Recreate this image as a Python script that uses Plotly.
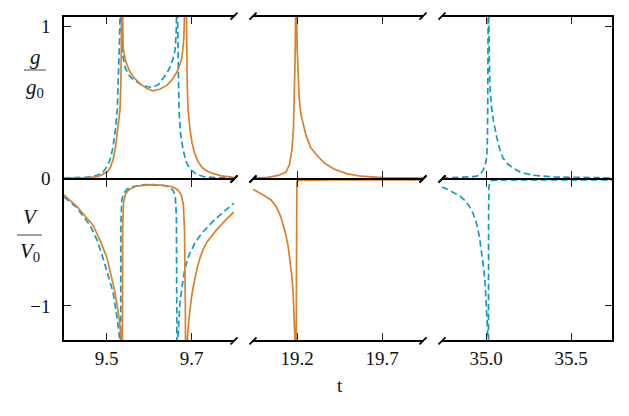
import plotly.graph_objects as go

W, H = 629, 416

# ---------------- data ----------------
# window 1 (t in [9.4, 9.8])
t_g_or_1 = [9.400, 9.450, 9.480, 9.5012, 9.509, 9.5153, 9.521, 9.526, 9.5318, 9.534, 9.5355, 9.537,
            9.5385, 9.5395, 9.545, 9.555, 9.565, 9.579, 9.595, 9.609, 9.625, 9.642, 9.655, 9.666,
            9.673, 9.678, 9.682, 9.685, 9.6865, 9.688, 9.689, 9.690, 9.692, 9.696, 9.701, 9.708,
            9.715, 9.725, 9.736, 9.748, 9.770, 9.800]
g_or_1 = [0.000, 0.003, 0.010, 0.040, 0.070, 0.120, 0.200, 0.300, 0.450, 0.650, 0.900, 1.400,
          0.950, 0.850, 0.770, 0.700, 0.660, 0.620, 0.590, 0.575, 0.585, 0.610, 0.650, 0.700,
          0.750, 0.800, 0.920, 1.100, 1.400, 1.100, 0.800, 0.600, 0.450, 0.330, 0.235, 0.160,
          0.110, 0.070, 0.048, 0.033, 0.015, 0.005]

t_g_bl_1 = [9.400, 9.450, 9.475, 9.4918, 9.502, 9.5082, 9.515, 9.521, 9.5254, 9.528, 9.530, 9.5318,
            9.533, 9.5345, 9.536, 9.539, 9.5435, 9.552, 9.5624, 9.585, 9.607, 9.622, 9.633, 9.642,
            9.6494, 9.656, 9.6612, 9.664, 9.6655, 9.6665, 9.6675, 9.6685, 9.6706, 9.674, 9.680,
            9.687, 9.6965, 9.712, 9.732, 9.770, 9.800]
g_bl_1 = [0.002, 0.006, 0.015, 0.040, 0.080, 0.120, 0.200, 0.320, 0.450, 0.620, 0.850, 1.060,
          1.400, 1.060, 0.900, 0.800, 0.730, 0.680, 0.650, 0.610, 0.595, 0.615, 0.660, 0.690,
          0.730, 0.780, 0.840, 0.950, 1.150, 1.450, 1.000, 0.700, 0.450, 0.300, 0.190,
          0.110, 0.060, 0.025, 0.008, 0.002, 0.001]

t_v_or_1 = [9.400, 9.430, 9.4682, 9.485, 9.5012, 9.511, 9.520, 9.5294, 9.5345, 9.537, 9.5375, 9.538,
            9.540, 9.545, 9.552, 9.570, 9.600, 9.630, 9.655, 9.668, 9.676, 9.681, 9.6835, 9.6855,
            9.687, 9.6885, 9.6905, 9.6935, 9.6965, 9.700, 9.704, 9.7082, 9.714, 9.720, 9.727,
            9.737, 9.748, 9.7593, 9.780, 9.800]
v_or_1 = [-0.120, -0.210, -0.360, -0.480, -0.620, -0.750, -0.890, -1.090, -1.250, -2.000, -1.200, -0.400,
          -0.180, -0.110, -0.080, -0.050, -0.040, -0.042, -0.055, -0.080, -0.120, -0.200, -0.400, -1.000,
          -2.000, -1.500, -1.250, -1.120, -1.020, -0.930, -0.850, -0.770, -0.690, -0.620, -0.555,
          -0.490, -0.440, -0.395, -0.320, -0.255]

t_v_bl_1 = [9.400, 9.430, 9.4612, 9.478, 9.4918, 9.504, 9.5153, 9.5247, 9.5306, 9.532, 9.533, 9.5335,
            9.534, 9.536, 9.540, 9.548, 9.560, 9.585, 9.610, 9.635, 9.650, 9.658, 9.662, 9.6645,
            9.6658, 9.6665, 9.667, 9.668, 9.670, 9.6729, 9.678, 9.6847, 9.695, 9.7082, 9.725,
            9.7475, 9.770, 9.800]
v_bl_1 = [-0.135, -0.220, -0.360, -0.480, -0.620, -0.760, -0.890, -1.090, -1.250, -1.450, -2.000, -1.000,
          -0.350, -0.160, -0.110, -0.075, -0.055, -0.040, -0.038, -0.045, -0.060, -0.090, -0.140, -0.300,
          -1.000, -2.000, -1.600, -1.250, -1.100, -0.970, -0.840, -0.700, -0.590, -0.500, -0.420,
          -0.340, -0.270, -0.185]

# window 2 (t in [18.94, 19.94]) - orange only
t_g_or_2 = [18.94, 19.026, 19.09, 19.134, 19.155, 19.169, 19.178, 19.183, 19.188, 19.191, 19.193,
            19.196, 19.200, 19.205, 19.212, 19.222, 19.235, 19.252, 19.280, 19.321, 19.360, 19.416,
            19.490, 19.575, 19.700, 19.940]
g_or_2 = [0.000, 0.006, 0.018, 0.040, 0.090, 0.190, 0.330, 0.520, 0.800, 1.100, 1.500,
          1.100, 0.850, 0.680, 0.520, 0.420, 0.350, 0.280, 0.200, 0.144, 0.100, 0.060,
          0.030, 0.013, 0.004, 0.001]

t_v_or_2 = [18.94, 18.97, 19.00, 19.046, 19.08, 19.105, 19.13, 19.146, 19.16, 19.169, 19.176, 19.181,
            19.187, 19.192, 19.194, 19.1955, 19.198, 19.210, 19.400, 19.940]
v_or_2 = [-0.075, -0.095, -0.120, -0.160, -0.220, -0.300, -0.420, -0.520, -0.650, -0.770, -0.900, -1.030,
          -1.270, -2.000, -0.500, -0.060, -0.015, -0.004, -0.001, 0.000]

# window 3 (t in [34.74, 35.74]) - blue only
t_g_bl_3 = [34.74, 34.85, 34.92, 34.945, 34.964, 34.983, 34.995, 35.003, 35.007, 35.009, 35.011, 35.012,
            35.013, 35.015, 35.018, 35.022, 35.030, 35.042, 35.062, 35.080, 35.100, 35.130, 35.159,
            35.200, 35.270, 35.400, 35.740]
g_bl_3 = [0.001, 0.004, 0.010, 0.014, 0.026, 0.055, 0.090, 0.140, 0.250, 0.450, 0.800, 1.100,
          1.500, 1.100, 0.800, 0.600, 0.480, 0.380, 0.270, 0.190, 0.130, 0.090, 0.065,
          0.040, 0.020, 0.008, 0.002]

t_v_bl_3 = [34.74, 34.78, 34.846, 34.88, 34.915, 34.94, 34.96, 34.975, 34.987, 34.995, 35.002, 35.008,
            35.012, 35.013, 35.0135, 35.014, 35.016, 35.020, 35.030, 35.060, 35.200, 35.740]
v_bl_3 = [-0.058, -0.080, -0.130, -0.170, -0.240, -0.330, -0.450, -0.580, -0.720, -0.850, -1.000, -1.200,
          -1.600, -2.500, -1.000, -0.300, -0.060, -0.020, -0.006, -0.002, -0.001, 0.000]

x_ranges = [[9.40, 9.80], [18.94, 19.94], [34.74, 35.74]]
x_tickvals = [[9.5, 9.7], [19.2, 19.7], [35.0, 35.5]]
x_ticktext = [["9.5", "9.7"], ["19.2", "19.7"], ["35.0", "35.5"]]
g_range = [0, 1.06]
v_range = [-1.27, 0]

# ---------------- style ----------------
ORANGE = "#d9822b"
BLUE = "#109cc0"
FONT = "Liberation Serif"
FS = 19

def px_x(p):
    return p / W

def px_y(p):
    return 1 - p / H

col_px = [(64, 234), (253, 423), (442, 612)]
row_px = [(17, 178.2), (179.8, 340)]

fig = go.Figure()

solid = dict(color=ORANGE, width=1.7)
dashed = dict(color=BLUE, width=1.7, dash="6.5px,3.5px")

def ax(i):
    return ("x" if i == 1 else f"x{i}"), ("y" if i == 1 else f"y{i}")

traces = [
    (1, t_g_bl_1, g_bl_1, dashed), (1, t_g_or_1, g_or_1, solid),
    (4, t_v_bl_1, v_bl_1, dashed), (4, t_v_or_1, v_or_1, solid),
    (2, t_g_or_2, g_or_2, solid), (5, t_v_or_2, v_or_2, solid),
    (3, t_g_bl_3, g_bl_3, dashed), (6, t_v_bl_3, v_bl_3, dashed),
]
for i, xs, ys, ln in traces:
    xa, ya = ax(i)
    fig.add_trace(go.Scatter(x=xs, y=ys, mode="lines", line=ln, xaxis=xa, yaxis=ya,
                             showlegend=False, hoverinfo="skip"))

layout = {}
for r in range(2):
    for c in range(3):
        i = r * 3 + c + 1
        xname = "xaxis" if i == 1 else f"xaxis{i}"
        yname = "yaxis" if i == 1 else f"yaxis{i}"
        xa, ya = ax(i)
        layout[xname] = dict(
            domain=[px_x(col_px[c][0]), px_x(col_px[c][1])], anchor=ya,
            range=x_ranges[c], tickvals=x_tickvals[c], ticktext=x_ticktext[c],
            showticklabels=(r == 1), ticks="inside", ticklen=7, tickwidth=1,
            tickcolor="#222", showline=True, linecolor="black", linewidth=1.6,
            mirror="ticks", showgrid=False, zeroline=False, automargin=False,
            tickfont=dict(family=FONT, size=FS, color="#111"),
            ticklabelstandoff=0,
        )
        yd = dict(
            domain=[px_y(row_px[r][1]), px_y(row_px[r][0])], anchor=xa,
            range=g_range if r == 0 else v_range,
            showgrid=False, zeroline=False, automargin=False,
            tickfont=dict(family=FONT, size=FS, color="#111"),
        )
        if c == 0:
            yd.update(side="left", showline=True, linecolor="black", linewidth=1.6,
                      ticks="inside", ticklen=7, tickwidth=1, tickcolor="#222",
                      tickvals=[0, 1] if r == 0 else [-1],
                      ticktext=["0", "1"] if r == 0 else ["\u22121"],
                      ticklabelstandoff=8)
        elif c == 2:
            yd.update(side="right", showline=True, linecolor="black", linewidth=1.6,
                      ticks="inside", ticklen=7, tickwidth=1, tickcolor="#222",
                      tickvals=[1] if r == 0 else [-1], showticklabels=False)
        else:
            yd.update(showline=False, ticks="", showticklabels=False)
        layout[yname] = yd

# break marks
shapes = []
breaks = [(1, 1), (2, 0), (2, 1), (3, 0)]  # (col, end) end 0=left,1=right
for r in range(2):
    for c, end in breaks:
        i = r * 3 + c
        xa, ya = ax(i)
        for yend in (0, 1):
            off = 0.8 if yend == 1 else -0.8
            shapes.append(dict(
                type="line", xref=f"{xa} domain", yref=f"{ya} domain",
                xsizemode="pixel", ysizemode="pixel", xanchor=end, yanchor=yend,
                x0=-3.5, x1=3.5, y0=-3.5 + off, y1=3.5 + off,
                line=dict(color="black", width=1.8)))

# fraction bars
shapes.append(dict(type="line", xref="paper", yref="paper",
                   x0=px_x(24), x1=px_x(46), y0=px_y(70), y1=px_y(70),
                   line=dict(color="#444", width=1)))
shapes.append(dict(type="line", xref="paper", yref="paper",
                   x0=px_x(17), x1=px_x(42), y0=px_y(235), y1=px_y(235),
                   line=dict(color="#444", width=1)))

tf = dict(family=FONT, size=21, color="#111")
annotations = [
    dict(text="<i>g</i>", x=px_x(35), y=px_y(57), xref="paper", yref="paper",
         showarrow=False, font=tf, xanchor="center", yanchor="middle"),
    dict(text="<i>g</i><sub>0</sub>", x=px_x(35), y=px_y(88), xref="paper", yref="paper",
         showarrow=False, font=tf, xanchor="center", yanchor="middle"),
    dict(text="<i>V</i>", x=px_x(30), y=px_y(217), xref="paper", yref="paper",
         showarrow=False, font=tf, xanchor="center", yanchor="middle"),
    dict(text="<i>V</i><sub>0</sub>", x=px_x(30), y=px_y(252), xref="paper", yref="paper",
         showarrow=False, font=tf, xanchor="center", yanchor="middle"),
    dict(text="t", x=px_x(340), y=px_y(385), xref="paper", yref="paper",
         showarrow=False, font=dict(family=FONT, size=FS, color="#111"),
         xanchor="center", yanchor="middle"),
]

fig.update_layout(
    width=W, height=H, margin=dict(l=0, r=0, t=0, b=0, autoexpand=False),
    paper_bgcolor="white", plot_bgcolor="white",
    shapes=shapes, annotations=annotations, showlegend=False,
    **layout,
)

fig.write_html("out.html")
